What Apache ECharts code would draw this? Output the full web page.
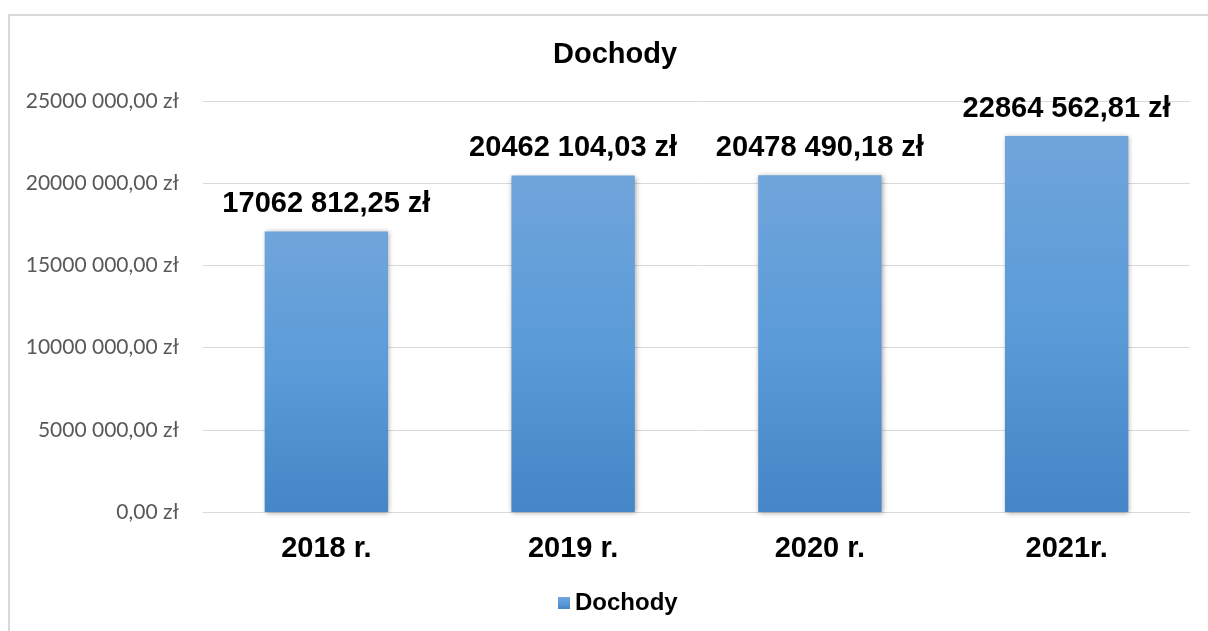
<!DOCTYPE html>
<html>
<head>
<meta charset="utf-8">
<script src="https://cdn.jsdelivr.net/npm/echarts@6/dist/echarts.min.js"></script>
<style>
  html, body { margin: 0; padding: 0; background: #fff; }
  #frame {
    position: absolute; left: 8px; top: 14px; width: 1200px; height: 617px;
    border-left: 2px solid #d9d9d9; border-top: 2px solid #d9d9d9;
  }
  #main { position: absolute; left: 0; top: 0; width: 1208px; height: 631px; }
</style>
</head>
<body>
<div id="frame"></div>
<div id="main"></div>
<script>
// dane wykresu
const years = ['2018 r.', '2019 r.', '2020 r.', '2021r.']
const dochody = [17062812.25, 20462104.03, 20478490.18, 22864562.81]
const yTicks = [0, 5000000, 10000000, 15000000, 20000000, 25000000]

// 17062812.25 -> "17062 812,25 zł"
function fmtZl(v) {
  const parts = v.toFixed(2).split('.')
  let int = parts[0]
  if (int.length > 3) int = int.slice(0, -3) + ' ' + int.slice(-3)
  return int + ',' + parts[1] + ' zł'
}

const myChart = echarts.init(document.getElementById('main'))
const option = {
  animation: false,
  title: {
    text: 'Dochody',
    left: 548,
    top: 35,
    textStyle: { fontFamily: 'Liberation Sans', fontWeight: 'bold', fontSize: 29, color: '#000' }
  },
  legend: {
    bottom: 11,
    left: 553,
    icon: 'rect',
    itemWidth: 12,
    itemHeight: 12,
    itemGap: 6,
    textStyle: { fontFamily: 'Liberation Sans', fontWeight: 'bold', fontSize: 24, color: '#000' },
    data: ['Dochody']
  },
  grid: { left: 203, right: 18, top: 101, bottom: 119, containLabel: false },
  xAxis: {
    type: 'category',
    data: years,
    axisTick: { show: false },
    axisLine: { lineStyle: { color: '#d9d9d9', width: 1 } },
    axisLabel: {
      margin: 22,
      fontFamily: 'Liberation Sans',
      fontWeight: 'bold',
      fontSize: 29,
      color: '#000'
    }
  },
  yAxis: {
    type: 'value',
    min: yTicks[0],
    max: yTicks[yTicks.length - 1],
    interval: yTicks[1] - yTicks[0],
    axisLine: { show: false },
    axisTick: { show: false },
    splitLine: { lineStyle: { color: '#d9d9d9', width: 1 } },
    axisLabel: {
      margin: 24,
      fontFamily: 'Lato',
      fontSize: 21,
      color: '#595959',
      formatter: fmtZl
    }
  },
  series: [
    {
      name: 'Dochody',
      type: 'bar',
      barWidth: '50%',
      data: dochody,
      itemStyle: {
        color: new echarts.graphic.LinearGradient(0, 0, 0, 1, [
          { offset: 0, color: '#70a5db' },
          { offset: 0.5, color: '#5a9bd8' },
          { offset: 1, color: '#4486c6' }
        ]),
        shadowBlur: 5,
        shadowColor: 'rgba(0,0,0,0.35)',
        shadowOffsetX: 1,
        shadowOffsetY: 1
      },
      label: {
        show: true,
        position: 'top',
        distance: 13,
        fontFamily: 'Liberation Sans',
        fontWeight: 'bold',
        fontSize: 29,
        color: '#000',
        formatter: function (p) { return fmtZl(p.value) }
      }
    }
  ]
}
option && myChart.setOption(option)
</script>
</body>
</html>
